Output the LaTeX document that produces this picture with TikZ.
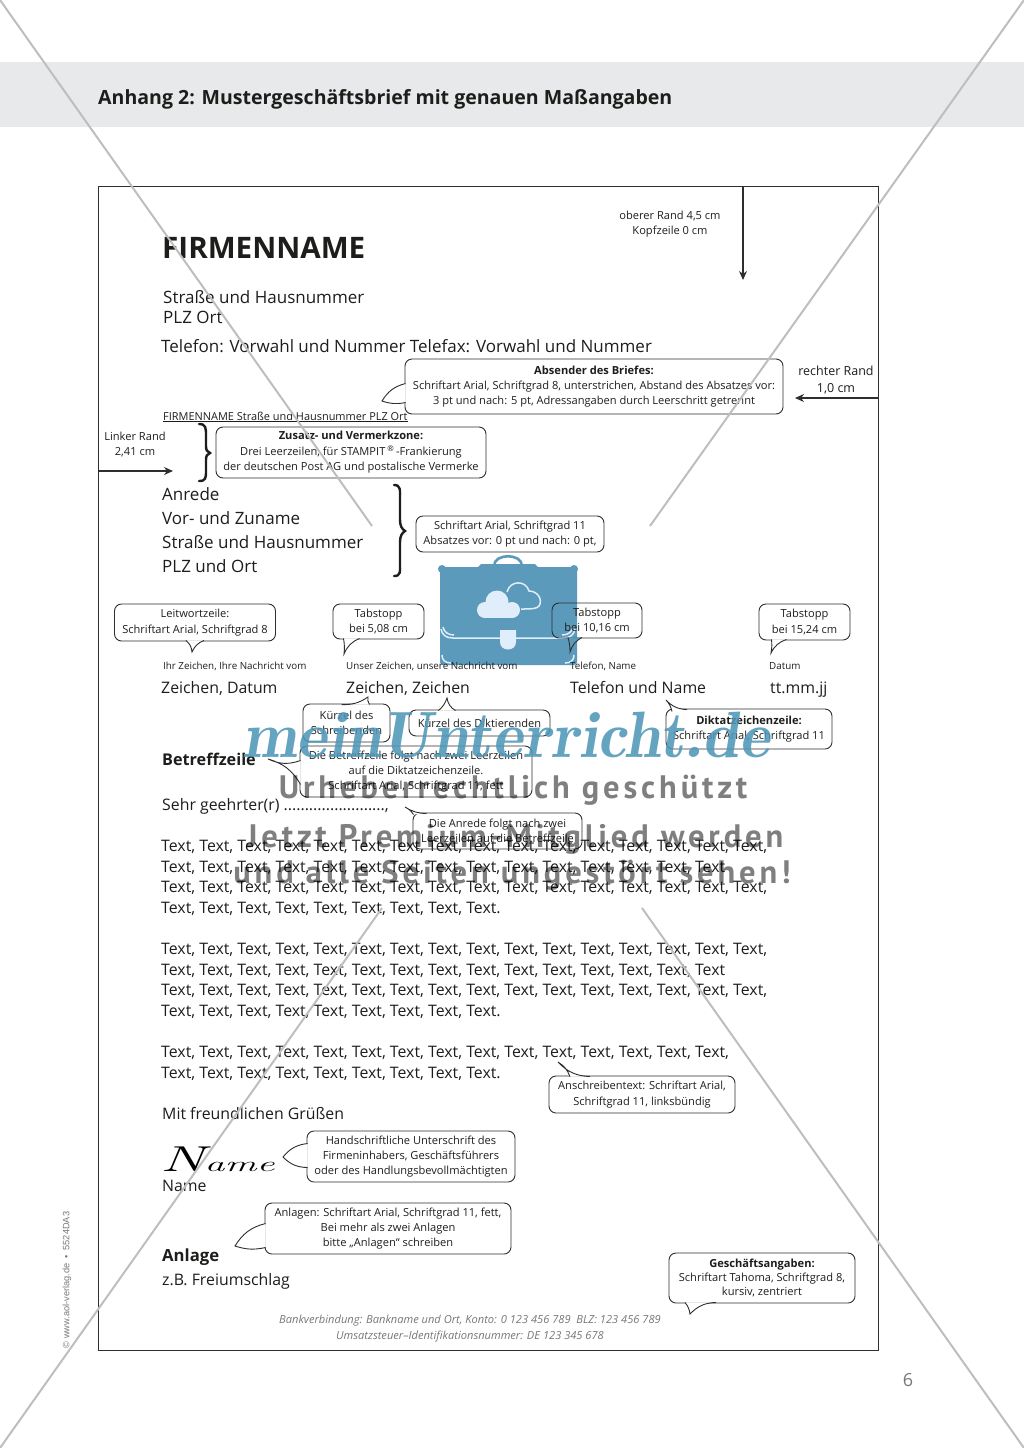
\documentclass[tikz,border=0pt]{standalone}
\usepackage{fontspec}
\setmainfont{Open Sans}
\newfontfamily\sidefont{Liberation Sans}
\newfontfamily\markfont[LetterSpace=12]{PT Sans}
\usepackage{tikz}
\usetikzlibrary{positioning,arrows.meta}

\definecolor{bandgrey}{HTML}{E8E9EA}
\definecolor{linegrey}{HTML}{2E2E30}
\definecolor{inkgrey}{HTML}{1D1D1B}
\definecolor{crossgrey}{HTML}{BEBEBE}
\definecolor{footgrey}{HTML}{777777}
\definecolor{caseblue}{HTML}{5B9ABB}
\definecolor{cloudblue}{HTML}{DFEEFA}
\definecolor{scriptblue}{HTML}{4F97B8}

\newcommand{\textlong}{Text, Text, Text, Text, Text, Text, Text, Text, Text, Text, Text, Text, Text, Text, Text, Text,}
\newcommand{\textmid}{Text, Text, Text, Text, Text, Text, Text, Text, Text, Text, Text, Text, Text, Text, Text}
\newcommand{\textend}{Text, Text, Text, Text, Text, Text, Text, Text, Text.}

\tikzset{
  bodytext/.style={anchor=base west,inner sep=0pt,text=inkgrey,font=\fontsize{15.85}{20}\selectfont},
  headtext/.style={anchor=base west,inner sep=0pt,text=inkgrey,font=\fontsize{17}{20}\selectfont},
  smalltext/.style={anchor=base west,inner sep=0pt,text=inkgrey,font=\fontsize{9.8}{13}\selectfont},
  randtext/.style={inner sep=0pt,text=inkgrey,align=center,font=\fontsize{11.1}{15.5}\selectfont},
  callbox/.style={draw=linegrey,line width=.9pt,rounded corners=7pt,inner sep=0pt,text=inkgrey,align=center,font=\fontsize{11.1}{15.4}\selectfont},
  calltail/.style={draw=linegrey,line width=.9pt,fill=white},
  randarrow/.style={draw=linegrey,line width=1.2pt,-{Stealth[length=9pt,width=8pt]}},
  brace/.style={draw=inkgrey,line width=2.4pt,line cap=round},
  crossline/.style={draw=crossgrey,line width=2pt},
  markline/.style={inner sep=0pt,text=black,opacity=.5,font=\markfont\bfseries\fontsize{32.5}{34}\selectfont},
}

\begin{document}
\begin{tikzpicture}[x=1pt,y=-1pt]
      \useasboundingbox (0,0) rectangle (1024,1448);
      \fill[bandgrey] (0,62) rectangle (1024,127);
      \draw (98,104) node[anchor=base west,inner sep=0pt,text=inkgrey,font=\bfseries\fontsize{19.55}{24}\selectfont] (title) {Anhang 2: Mustergeschäftsbrief mit genauen Maßangaben};
      \draw[linegrey,line width=1pt] (98,186) rectangle (878,1350);
      % briefcase
      \fill[caseblue,rounded corners=3pt] (440,567) rectangle (577,665);
      \fill[caseblue] (478,567) -- (481,564) -- (535,564) -- (538,567) -- cycle;
      \fill[caseblue] (442,569) circle (4);
      \fill[caseblue] (574,569) circle (4);
      \draw[caseblue,line width=2.6pt] (494,566) .. controls (494,553) and (522,553) .. (522,566);
      \fill[cloudblue] (497,602) circle (11.5);
      \fill[cloudblue] (485,610) circle (8);
      \fill[cloudblue] (512,610) circle (8);
      \fill[cloudblue] (485,606) rectangle (512,618);
      \draw[cloudblue,line width=1.5pt] (507,592) .. controls (510,580) and (526,580) .. (529,591) .. controls (538,591) and (543,600) .. (539,606) .. controls (537,609) and (530,609) .. (521,609);
      \draw[cloudblue,line width=1.5pt] (441,629) .. controls (442,635) and (446,638) .. (453,638) -- (563,638) .. controls (570,638) and (574,635) .. (575,629);
      \draw[cloudblue,line width=1.5pt] (443,627) .. controls (444,632) and (448,635) .. (454,635) (573,627) .. controls (572,632) and (568,635) .. (562,635);
      \fill[cloudblue] (500,630) -- (516,630) -- (516,642) .. controls (516,652) and (500,652) .. (500,642) -- cycle;
      \draw[cloudblue,line width=1.5pt] (442,655) .. controls (442,660) and (445,663) .. (451,663) (574,655) .. controls (574,660) and (571,663) .. (565,663);
      % letter head
      \draw (162,258) node[anchor=base west,inner sep=0pt,text=inkgrey,font=\bfseries\fontsize{29.6}{32}\selectfont] (firma) {FIRMENNAME};
      \draw (163,303) node[headtext] (strasse1) {Straße und Hausnummer};
      \draw (163,323) node[headtext] (plz1) {PLZ Ort};
      \draw (161,352) node[headtext] (telefon) {Telefon: Vorwahl und Nummer Telefax: Vorwahl und Nummer};
      \draw (163,420) node[smalltext,font=\fontsize{10.95}{13}\selectfont] (absender) {\underline{FIRMENNAME Straße und Hausnummer PLZ Ort}};
      \draw (162,500) node[headtext] (anrede) {Anrede};
      \draw (162,524) node[headtext] (vorname) {Vor- und Zuname};
      \draw (162,548) node[headtext] (strasse2) {Straße und Hausnummer};
      \draw (162,572) node[headtext] (plz2) {PLZ und Ort};
      % margins
      \draw (670,224) node[randtext] (oberer) {oberer Rand 4,5 cm\\Kopfzeile 0 cm};
      \draw (836,380) node[randtext,font=\fontsize{12.5}{17}\selectfont] (rechter) {rechter Rand\\1,0 cm};
      \draw (135,444.5) node[randtext] (linker) {Linker Rand\\2,41 cm};
      \draw (743,186) coordinate (obenstart);
      \draw (743,280) coordinate (obenend);
      \draw (878,398) coordinate (rechtsstart);
      \draw (795,398) coordinate (rechtsend);
      \draw (98,471) coordinate (linksstart);
      \draw (173,471) coordinate (linksend);
      \draw[randarrow] (obenstart) to (obenend);
      \draw[randarrow] (rechtsstart) to (rechtsend);
      \draw[randarrow] (linksstart) to (linksend);
      % braces
      \draw[brace] (199,424) .. controls (206,424) and (206,428) .. (206,436) -- (206,446) .. controls (206,450) and (207,452) .. (210,453) .. controls (207,454) and (206,456) .. (206,460) -- (206,470) .. controls (206,478) and (206,481) .. (199,481);
      \draw[brace] (394,485) .. controls (401,485) and (400,490) .. (400,500) -- (400,520) .. controls (400,526) and (402,529) .. (405,531) .. controls (402,533) and (400,536) .. (400,542) -- (400,562) .. controls (400,572) and (401,576) .. (394,576);
      % info lines
      \draw (163,669) node[smalltext] (ihr) {Ihr Zeichen, Ihre Nachricht vom};
      \draw (346,669) node[smalltext] (unser) {Unser Zeichen, unsere Nachricht vom};
      \draw (570,669) node[smalltext] (telname) {Telefon, Name};
      \draw (769,669) node[smalltext] (datum) {Datum};
      \draw (161,693) node[bodytext] (zeichen1) {Zeichen, Datum};
      \draw (346,693) node[bodytext] (zeichen2) {Zeichen, Zeichen};
      \draw (570,693) node[bodytext] (telefon2) {Telefon und Name};
      \draw (770,693) node[bodytext] (ttmmjj) {tt.mm.jj};
      \draw (162,765) node[bodytext,font=\bfseries\fontsize{16.2}{20}\selectfont] (betreff) {Betreffzeile};
      \draw (162,810) node[bodytext] (sehr) {Sehr geehrter(r) ........................,};
      % letter text
      \draw (161,851) node[bodytext] (text1a) {\textlong};
      \draw (161,872) node[bodytext] (text1b) {\textmid};
      \draw (161,892) node[bodytext] (text1c) {\textlong};
      \draw (161,913) node[bodytext] (text1d) {\textend};
      \draw (161,954) node[bodytext] (text2a) {\textlong};
      \draw (161,975) node[bodytext] (text2b) {\textmid};
      \draw (161,995) node[bodytext] (text2c) {\textlong};
      \draw (161,1016) node[bodytext] (text2d) {\textend};
      \draw (161,1057) node[bodytext] (text3a) {\textmid,};
      \draw (161,1078) node[bodytext] (text3b) {\textend};
      \draw (162,1119) node[bodytext] (gruss) {Mit freundlichen Grüßen};
      \draw (160,1171) node[anchor=base west,inner sep=0pt,text=black,font=\fontfamily{lmr}\itshape\fontsize{36}{38}\selectfont] (signatur) {\scalebox{1.7}[1]{N}\scalebox{1.9}[1]{\fontsize{21}{21}\selectfont ame}};
      \draw (162,1191) node[bodytext] (name) {Name};
      \draw (162,1261) node[bodytext,font=\bfseries\fontsize{16.7}{20}\selectfont] (anlage) {Anlage};
      \draw (162,1285) node[bodytext] (freiumschlag) {z.B. Freiumschlag};
      \draw (470,1329) node[inner sep=0pt,text=footgrey,align=center,font=\itshape\fontsize{11.1}{16}\selectfont] (fuss) {Bankverbindung: Bankname und Ort, Konto: 0 123 456 789\ \ BLZ: 123 456 789\\Umsatzsteuer--Identifikationsnummer: DE 123 345 678};
      \draw (908,1380) node[inner sep=0pt,text=footgrey,font=\fontsize{18}{20}\selectfont] (seite) {6};
      \draw (67,1280) node[rotate=90,inner sep=0pt,text=footgrey,font=\sidefont\fontsize{9.2}{12}\selectfont] (verlag) {© www.aol-verlag.de\ \ •\ \ 5524DA3};
      % callouts
      \draw (594,386.5) node[callbox,minimum width=378pt,minimum height=55pt] (callAbsender) {\textbf{Absender des Briefes:}\\Schriftart Arial, Schriftgrad 8, unterstrichen, Abstand des Absatzes vor:\\3 pt und nach: 5 pt, Adressangaben durch Leerschritt getrennt};
      \draw (351,452.5) node[callbox,minimum width=270pt,minimum height=51pt] (callZusatz) {\textbf{Zusatz- und Vermerkzone:}\\Drei Leerzeilen, für STAMPIT\,\textsuperscript{®}\,-Frankierung\\der deutschen Post AG und postalische Vermerke};
      \draw (510,534) node[callbox,minimum width=188pt,minimum height=36pt] (callAdresse) {Schriftart Arial, Schriftgrad 11\\Absatzes vor: 0 pt und nach: 0 pt,};
      \draw (195,622.5) node[callbox,minimum width=161pt,minimum height=37pt] (callLeit) {Leitwortzeile:\\Schriftart Arial, Schriftgrad 8};
      \draw (378.5,621.5) node[callbox,minimum width=91pt,minimum height=35pt] (callTab1) {Tabstopp\\bei 5,08 cm};
      \draw (597,620.5) node[callbox,minimum width=90pt,minimum height=35pt] (callTab2) {Tabstopp\\bei 10,16 cm};
      \draw (804.5,622) node[callbox,minimum width=91pt,minimum height=36pt] (callTab3) {Tabstopp\\bei 15,24 cm};
      \draw (346.5,723) node[callbox,minimum width=87pt,minimum height=38pt] (callSchreib) {Kürzel des\\Schreibenden};
      \draw (479.5,723) node[callbox,minimum width=141pt,minimum height=26pt] (callDiktier) {Kürzel des Diktierenden};
      \draw (749,729) node[callbox,minimum width=166pt,minimum height=40pt] (callDiktat) {\textbf{Diktatzeichenzeile:}\\Schriftart Arial, Schriftgrad 11};
      \draw (416,771.5) node[callbox,minimum width=232pt,minimum height=51pt] (callBetreff) {Die Betreffzeile folgt nach zwei Leerzeilen\\auf die Diktatzeichenzeile.\\Schriftart Arial, Schriftgrad 11, fett};
      \draw (497.5,831) node[callbox,minimum width=169pt,minimum height=36pt] (callAnrede) {Die Anrede folgt nach zwei\\Leerzeilen auf die Betreffzeile};
      \draw (642,1094.5) node[callbox,minimum width=186pt,minimum height=37pt] (callAnschreib) {Anschreibentext: Schriftart Arial,\\Schriftgrad 11, linksbündig};
      \draw (411,1156.5) node[callbox,minimum width=208pt,minimum height=51pt] (callUnterschrift) {Handschriftliche Unterschrift des\\Firmeninhabers, Geschäftsführers\\oder des Handlungsbevollmächtigten};
      \draw (388,1228.5) node[callbox,minimum width=246pt,minimum height=51pt] (callAnlagen) {Anlagen: Schriftart Arial, Schriftgrad 11, fett,\\Bei mehr als zwei Anlagen\\bitte „Anlagen“ schreiben};
      \draw (762,1278) node[callbox,minimum width=186pt,minimum height=50pt,font=\fontsize{11.1}{14}\selectfont] (callGeschaeft) {\textbf{Geschäftsangaben:}\\Schriftart Tahoma, Schriftgrad 8,\\kursiv, zentriert};
      % callout tips
      \draw (382,401) coordinate (tipAbsender);
      \draw (192,652) coordinate (tipLeit);
      \draw (344,654) coordinate (tipTab1);
      \draw (570,652) coordinate (tipTab2);
      \draw (771,653) coordinate (tipTab3);
      \draw (368,697) coordinate (tipSchreib);
      \draw (447,698) coordinate (tipDiktier);
      \draw (666,700) coordinate (tipDiktat);
      \draw (268,759) coordinate (tipBetreff);
      \draw (405,807) coordinate (tipAnrede);
      \draw (558,1062) coordinate (tipAnschreib);
      \draw (283,1157) coordinate (tipUnterschrift);
      \draw (235,1246) coordinate (tipAnlagen);
      \draw (690,1314) coordinate (tipGeschaeft);
      % callout tails
      \draw[calltail] ([xshift=1pt,yshift=3pt]callAbsender.west) to[bend right=22] (tipAbsender) to[bend right=15] ([xshift=1pt,yshift=-16pt]callAbsender.west);
      \draw[calltail] ([xshift=9pt,yshift=1pt]callLeit.south) to[bend right=22] (tipLeit) to[bend right=22] ([xshift=-9pt,yshift=1pt]callLeit.south);
      \draw[calltail] ([xshift=-19pt,yshift=1pt]callTab1.south) to[bend right=22] (tipTab1) to[bend right=8] ([xshift=-35pt,yshift=1pt]callTab1.south);
      \draw[calltail,fill=caseblue] ([xshift=-15pt,yshift=1pt]callTab2.south) to[bend right=22] (tipTab2) to[bend right=8] ([xshift=-29pt,yshift=1pt]callTab2.south);
      \draw[calltail] ([xshift=-18pt,yshift=1pt]callTab3.south) to[bend right=22] (tipTab3) to[bend right=8] ([xshift=-33pt,yshift=1pt]callTab3.south);
      \draw[calltail] ([xshift=-5pt,yshift=-1pt]callSchreib.north) to[bend right=18] (tipSchreib) to[bend right=22] ([xshift=23pt,yshift=-1pt]callSchreib.north);
      \draw[calltail] ([xshift=-41pt,yshift=-1pt]callDiktier.north) to[bend right=15] (tipDiktier) to[bend right=25] ([xshift=-24pt,yshift=-1pt]callDiktier.north);
      \draw[calltail] ([xshift=-77pt,yshift=-3pt]callDiktat.north) to[bend right=15] (tipDiktat) to[bend right=22] ([xshift=-62pt,yshift=-1pt]callDiktat.north);
      \draw[calltail] ([xshift=1pt,yshift=-13pt]callBetreff.west) to[bend right=22] (tipBetreff) to[bend right=22] ([xshift=1pt,yshift=11pt]callBetreff.west);
      \draw[calltail] ([xshift=-84pt,yshift=-2pt]callAnrede.north) to[bend right=15] (tipAnrede) to[bend right=15] ([xshift=-71pt,yshift=-1pt]callAnrede.north);
      \draw[calltail] ([xshift=-72pt,yshift=-1pt]callAnschreib.north) to[bend right=18] (tipAnschreib) to[bend right=22] ([xshift=-52pt,yshift=-1pt]callAnschreib.north);
      \draw[calltail] ([xshift=1pt,yshift=13pt]callUnterschrift.west) to[bend right=22] (tipUnterschrift) to[bend right=22] ([xshift=1pt,yshift=-11pt]callUnterschrift.west);
      \draw[calltail] ([xshift=1pt,yshift=5pt]callAnlagen.west) to[bend right=22] (tipAnlagen) to[bend right=15] ([xshift=1pt,yshift=-19pt]callAnlagen.west);
      \draw[calltail] ([xshift=-46pt,yshift=1pt]callGeschaeft.south) to[bend right=22] (tipGeschaeft) to[bend right=15] ([xshift=-77pt,yshift=1pt]callGeschaeft.south);
      % sample marks
      \draw[crossline] (0,0) -- (372,526);
      \draw[crossline] (642,908) -- (1024,1448);
      \draw[crossline] (1024,0) -- (650,526);
      \draw[crossline] (382,908) -- (0,1448);
      \draw (506,757) node[anchor=base,inner sep=0pt,text=scriptblue,opacity=.88,font=\fontfamily{lmr}\bfseries\itshape\fontsize{65.5}{68}\selectfont] (meinU) {meinUnterricht.de};
      \draw (513,790) node[markline] (urheber) {Urheberrechtlich geschützt};
      \draw (515,839) node[markline] (premium) {Jetzt Premium-Mitglied werden};
      \draw (512,875) node[markline] (seiten) {und alle Seiten ungestört sehen!};
\end{tikzpicture}
\end{document}
